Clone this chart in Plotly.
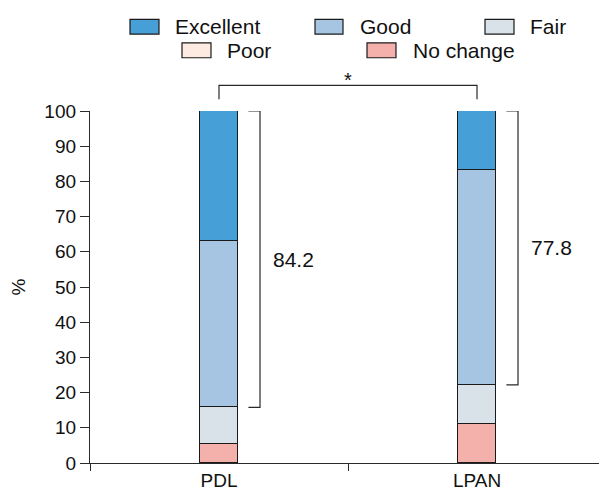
import plotly.graph_objects as go

# ---------------- data ----------------
groups = ["PDL", "LPAN"]
series_names = ["No change", "Poor", "Fair", "Good", "Excellent"]  # bottom -> top
no_change = [5.3, 11.1]
poor = [0.0, 0.0]
fair = [10.5, 11.1]
good = [47.4, 61.1]
excellent = [36.8, 16.7]
y_ticks = [0, 10, 20, 30, 40, 50, 60, 70, 80, 90, 100]
significance = "*"
legend_rows = [["Excellent", "Good", "Fair"], ["Poor", "No change"]]

# ---------------- style ----------------
colors = {
    "Excellent": "#479FD7",
    "Good": "#A6C5E3",
    "Fair": "#D9E1E9",
    "Poor": "#FDEBE2",
    "No change": "#F4B0AB",
}
FONT = "Arial, Liberation Sans, sans-serif"
OFF = 8  # page body margin
W, H = 607 - OFF, 492 - OFF
ML, MR, MT, MB = 90 - OFF, 1, 111 - OFF, 32 - OFF
PW, PH = W - ML - MR, H - MT - MB


def px_x(px):
    # reference-picture pixel -> paper fraction
    return (px - OFF - ML) / PW


def px_y(py):
    return (H - MB - (py - OFF)) / PH


values = {"No change": no_change, "Poor": poor, "Fair": fair,
          "Good": good, "Excellent": excellent}

fig = go.Figure()
for name in series_names:
    fig.add_trace(go.Bar(
        x=groups, y=values[name], name=name,
        width=0.148,
        marker=dict(color=colors[name], line=dict(color="#1a1a1a", width=1.5)),
        showlegend=False,
    ))

# brackets for Good + Excellent (drawn on an overlaid linear x axis with the same positions)
bracket_lines = dict(color="#2a2a2a", width=1.2)
for i, g in enumerate(groups):
    base = no_change[i] + poor[i] + fair[i]
    top = base + good[i] + excellent[i]
    x0, x1 = i + 0.114, i + 0.159
    fig.add_trace(go.Scatter(
        x=[x0, x1, x1, x0], y=[top, top, base, base], xaxis="x2", yaxis="y",
        mode="lines", line=bracket_lines, cliponaxis=False,
        showlegend=False, hoverinfo="skip",
    ))
    fig.add_annotation(
        x=i + 0.203, y=(base + top) / 2, xref="x2", yref="y",
        text=f"{good[i] + excellent[i]:.1f}", showarrow=False,
        xanchor="left", yanchor="middle",
        font=dict(size=21, color="#111111", family=FONT),
    )

# significance bracket
fig.add_shape(type="path", xref="x", yref="paper",
              path=f"M 0,{px_y(99)} L 0,{px_y(85)} L 1,{px_y(85)} L 1,{px_y(99)}",
              line=dict(color="#2a2a2a", width=1.2))
fig.add_annotation(x=0.5, y=px_y(66), xref="x", yref="paper", text=significance,
                   showarrow=False, font=dict(size=20, color="#111111", family=FONT))

# manual legend
row_y = [(18, 33), (42, 57)]
row_x = [[(130, 159, 175), (315, 343, 360), (485, 514, 530)],
         [(182, 211, 227), (367, 396, 413)]]
for r, names in enumerate(legend_rows):
    y0, y1 = row_y[r]
    for j, name in enumerate(names):
        sx0, sx1, tx = row_x[r][j]
        fig.add_shape(type="rect", xref="paper", yref="paper",
                      x0=px_x(sx0), x1=px_x(sx1), y0=px_y(y1), y1=px_y(y0),
                      fillcolor=colors[name], line=dict(color="#1a1a1a", width=1.2))
        fig.add_annotation(x=px_x(tx) - 0.003, y=px_y((y0 + y1) / 2), xref="paper", yref="paper",
                           text=name, showarrow=False, xanchor="left", yanchor="middle",
                           font=dict(size=21, color="#111111", family=FONT))

fig.update_layout(
    width=W, height=H, barmode="stack",
    margin=dict(l=ML, r=MR, t=MT, b=MB),
    paper_bgcolor="white", plot_bgcolor="white",
    font=dict(family=FONT, size=19, color="#111111"),
    showlegend=False,
    bargap=0,
    xaxis2=dict(overlaying="x", range=[-0.5, 1.5], visible=False, showgrid=False,
                zeroline=False, type="linear"),
)
fig.update_layout(xaxis=dict(
    type="category", categoryorder="array", categoryarray=groups,
    range=[-0.5, 1.5], tickson="boundaries", ticks="outside", ticklen=7,
    tickcolor="#2a2a2a", showline=True, linecolor="#2a2a2a", linewidth=1.3,
    showgrid=False, zeroline=False, tickfont=dict(size=19),
))
fig.update_yaxes(
    range=[0, 100], tickvals=y_ticks, ticks="outside", ticklen=9,
    tickcolor="#2a2a2a", showline=True, linecolor="#2a2a2a", linewidth=1.3,
    showgrid=False, zeroline=False, tickfont=dict(size=19),
    title=dict(text="%", standoff=16, font=dict(size=19)),
)

fig.write_html("out.html")
